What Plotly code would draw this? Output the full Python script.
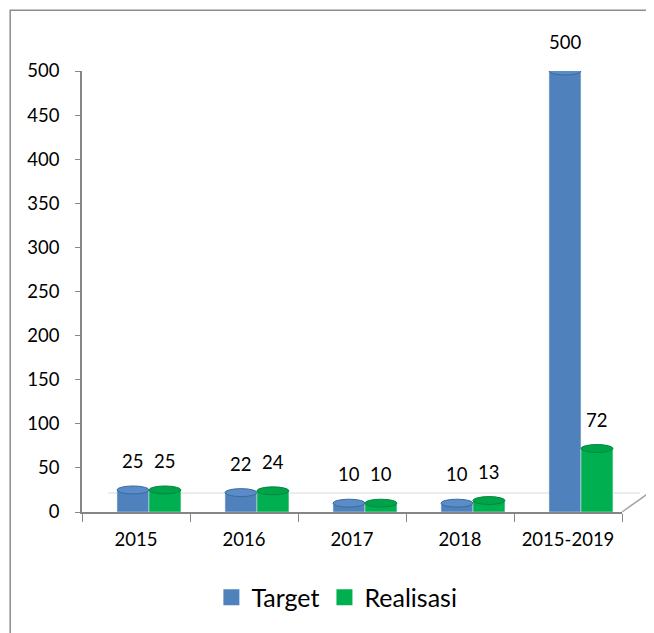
import plotly.graph_objects as go

categories = ["2015", "2016", "2017", "2018", "2015-2019"]
target = [25, 22, 10, 10, 500]
realisasi = [25, 24, 10, 13, 72]
y_ticks = [0, 50, 100, 150, 200, 250, 300, 350, 400, 450, 500]

BLUE = "#4F81BD"
GREEN = "#00B050"
FONT = "Lato"

bw = 0.296
off_t = -0.176
off_r = 0.12

fig = go.Figure()
fig.add_trace(go.Bar(name="Target", x=categories, y=target, marker_color=BLUE,
                     width=bw, offset=off_t, showlegend=False))
fig.add_trace(go.Bar(name="Realisasi", x=categories, y=realisasi, marker_color=GREEN,
                     width=bw, offset=off_r, showlegend=False))
# legend entries with square swatches
fig.add_trace(go.Scatter(name="Target", x=[None], y=[None], mode="markers",
                         marker=dict(symbol="square", size=18, color=BLUE)))
fig.add_trace(go.Scatter(name="Realisasi", x=[None], y=[None], mode="markers",
                         marker=dict(symbol="square", size=18, color=GREEN)))

shapes = []
annotations = []
cap = 4.5
for vals, off, col, line in [(target, off_t, "#5a8cc8", "#3d6a9e"),
                             (realisasi, off_r, "#00a34a", "#008a3c")]:
    for i, v in enumerate(vals):
        shapes.append(dict(type="circle", xref="x", yref="y",
                           x0=i + off, x1=i + off + bw, y0=v - cap, y1=v + cap,
                           fillcolor=col, line=dict(color=line, width=1), layer="above"))
        annotations.append(dict(x=i + off + bw / 2, y=v, xref="x", yref="y", text=str(v),
                                showarrow=False, yshift=29, yanchor="middle",
                                font=dict(size=18.5, family=FONT, color="#000")))
# floor decoration
shapes.append(dict(type="line", xref="paper", yref="paper", x0=0.048, x1=1.033, y0=0.043, y1=0.043,
                   line=dict(color="#d9d9d9", width=1), layer="below"))
shapes.append(dict(type="line", xref="paper", yref="paper", x0=1.0, x1=1.052, y0=0.0, y1=0.045,
                   line=dict(color="#a6a6a6", width=1.5)))
# outer border
shapes.append(dict(type="rect", xref="paper", yref="paper", x0=-0.133, x1=1.1, y0=-0.3, y1=1.138,
                   line=dict(color="#8c8c8c", width=1.5), fillcolor="rgba(0,0,0,0)"))

fig.update_layout(
    width=646, height=625,
    margin=dict(l=74, r=32, t=63, b=119),
    paper_bgcolor="white", plot_bgcolor="white",
    barmode="overlay",
    font=dict(family=FONT, color="#000"),
    showlegend=True,
    legend=dict(orientation="h", x=0.472, xanchor="center", y=-0.194, yanchor="middle",
                font=dict(size=25, family=FONT, color="#000"), itemwidth=30),
    shapes=shapes,
    annotations=annotations,
    xaxis=dict(type="category", showline=True, linecolor="#868686", linewidth=1.5,
               ticks="outside", ticklen=8, tickcolor="#868686", tickson="boundaries",
               tickfont=dict(size=18.5, family=FONT), showgrid=False, ticklabelstandoff=10,
               range=[-0.5, 4.5]),
    yaxis=dict(range=[0, 500], tickvals=y_ticks, showline=True, linecolor="#868686", linewidth=1.5,
               ticks="outside", ticklen=5, tickcolor="#868686", showgrid=False, zeroline=False,
               tickfont=dict(size=18.5, family=FONT), ticklabelstandoff=12),
)

fig.write_html("out.html")
